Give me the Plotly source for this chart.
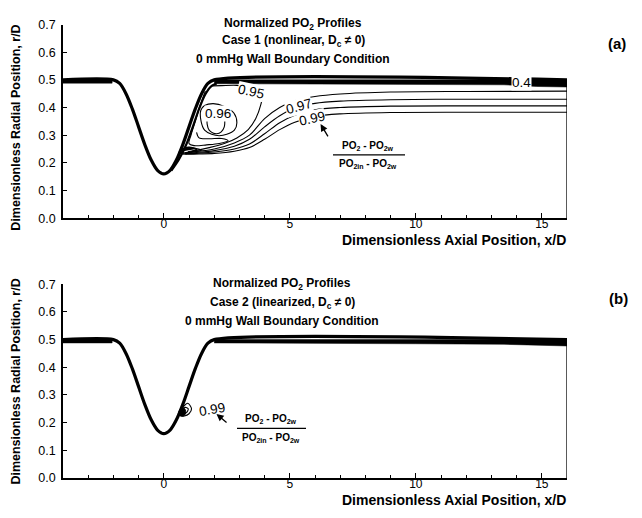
import plotly.graph_objects as go

# ---------------- data ----------------
# vessel wall (stenosis) profile, r/D vs x/D
wall_x = [-4.0, -2.0, -1.75, -1.5, -1.25, -1.0, -0.75, -0.5, -0.25, 0.0,
          0.25, 0.5, 0.75, 1.0, 1.25, 1.5, 1.75, 2.0, 16.0]
wall_r = [0.5, 0.5, 0.487, 0.45, 0.395, 0.33, 0.265, 0.21, 0.173, 0.16,
          0.173, 0.21, 0.265, 0.33, 0.395, 0.45, 0.487, 0.5, 0.5]

# dense near-wall contours (drawn as a solid band)
band_up_x = [-4.0, -2.05]
band_up_outer = [0.5, 0.5]
band_up_inner = [0.488, 0.488]
band_dn_x = [2.0, 6.0, 10.0, 13.5, 14.8, 16.0]
band_dn_outer = [0.5, 0.5, 0.5, 0.5, 0.5, 0.5]
band_a_inner = [0.486, 0.485, 0.484, 0.482, 0.476, 0.474]
band_b_inner = [0.488, 0.487, 0.485, 0.483, 0.480, 0.477]

# near-wall contour on the downstream slope (case 1)
nw_x = [0.3, 0.6, 0.9, 1.15, 1.4, 1.65, 1.9, 2.1]
nw_r = [0.172, 0.212, 0.268, 0.33, 0.395, 0.448, 0.478, 0.487]

# case 1 contours
c95_x = [1.92, 2.3, 2.9, 3.4, 3.75, 3.9, 3.85, 3.65, 3.35, 2.9, 2.4, 1.8, 1.3, 0.95]
c95_r = [0.478, 0.479, 0.48, 0.472, 0.46, 0.44, 0.41, 0.36, 0.32, 0.29, 0.27, 0.255, 0.245, 0.24]

cA_x = [1.65, 1.45, 1.25, 1.08, 1.0, 1.2, 1.7, 2.2, 2.55, 2.3, 1.8, 1.4, 1.3]
cA_r = [0.46, 0.41, 0.35, 0.30, 0.27, 0.262, 0.265, 0.27, 0.28, 0.288, 0.287, 0.29, 0.31]

c96_x = [1.47, 1.62, 1.96, 2.4, 2.78, 2.9, 2.8, 2.5, 2.2, 1.9, 1.62, 1.48, 1.47]
c96_r = [0.39, 0.407, 0.414, 0.404, 0.38, 0.345, 0.318, 0.303, 0.298, 0.303, 0.318, 0.35, 0.39]

cU_x = [1.72, 1.72, 1.8, 1.95, 2.1, 2.28, 2.4, 2.42]
cU_r = [0.36, 0.34, 0.318, 0.308, 0.305, 0.312, 0.33, 0.36]

fan_x = [0.85, 1.4, 2.0, 2.8, 3.4, 4.0, 4.6, 5.2, 6.0, 7.0, 9.0, 12.0, 16.0]
fanA_r = [0.237, 0.242, 0.25, 0.272, 0.30, 0.36, 0.40, 0.425, 0.44, 0.449, 0.456, 0.458, 0.459]
fanB_r = [0.235, 0.238, 0.244, 0.26, 0.285, 0.33, 0.37, 0.398, 0.415, 0.423, 0.428, 0.43, 0.43]
fanC_r = [0.233, 0.235, 0.239, 0.25, 0.268, 0.305, 0.345, 0.372, 0.392, 0.4, 0.405, 0.406, 0.406]
fanD_r = [0.231, 0.232, 0.234, 0.242, 0.255, 0.285, 0.32, 0.347, 0.368, 0.377, 0.382, 0.383, 0.383]

blob1_x = [0.62, 0.8, 1.0, 1.3, 1.05, 0.8, 0.62]
blob1_r = [0.24, 0.252, 0.256, 0.25, 0.238, 0.232, 0.24]
blob1b_x = [0.7, 0.9, 1.2, 1.5, 1.2, 0.9, 0.7]
blob1b_r = [0.238, 0.248, 0.252, 0.246, 0.24, 0.236, 0.238]

# case 2 contours (0.99 near reattachment)
c2a_x = [0.62, 0.78, 0.95, 1.1, 1.0, 0.82, 0.66, 0.62]
c2a_r = [0.235, 0.258, 0.27, 0.25, 0.232, 0.224, 0.226, 0.235]
c2b_x = [0.72, 0.84, 0.97, 0.9, 0.77, 0.72]
c2b_r = [0.238, 0.255, 0.25, 0.236, 0.232, 0.238]
blob2_x = [0.58, 0.72, 0.86, 0.82, 0.66, 0.58]
blob2_r = [0.232, 0.255, 0.245, 0.226, 0.224, 0.232]

# contour labels (value, x, r, angle)
labels_a = [("0.95", 3.45, 0.458, 12), ("0.96", 2.15, 0.378, 0),
            ("0.97", 5.35, 0.402, -15), ("0.99", 5.9, 0.36, -12),
            ("0.4", 14.2, 0.491, 0)]
labels_b = [("0.99", 1.9, 0.247, -10)]

x_ticks = [0, 5, 10, 15]
x_range = [-4, 16]
y_range = [0, 0.7]

# ---------------- figure ----------------
W, H = 642, 518
def fx(p):
    return p / W
def fy(p):
    return 1 - p / H

FONT = "Liberation Sans, Arial, Helvetica, sans-serif"
fig = go.Figure()

def line(x, y, ax, w=1.1, shape="spline"):
    fig.add_trace(go.Scatter(x=x, y=y, mode="lines", xaxis=ax[0], yaxis=ax[1],
                             line=dict(color="black", width=w, shape=shape, smoothing=0.9),
                             hoverinfo="skip", showlegend=False))

def poly(x, outer, inner, ax):
    fig.add_trace(go.Scatter(x=list(x) + list(x)[::-1], y=list(outer) + list(inner)[::-1],
                             mode="lines", fill="toself", fillcolor="black",
                             xaxis=ax[0], yaxis=ax[1], line=dict(color="black", width=0.5),
                             hoverinfo="skip", showlegend=False))

for ax, inner in ((("x", "y"), band_a_inner), (("x2", "y2"), band_b_inner)):
    poly(band_up_x, band_up_outer, band_up_inner, ax)
    poly(band_dn_x, band_dn_outer, inner, ax)
    line(wall_x, wall_r, ax, w=3.2)
    line([wall_x[-1], wall_x[-1]], [0, inner[-1]], ax, w=1.3, shape="linear")

A = ("x", "y")
line(nw_x, nw_r, A, w=2.2)
line(c95_x, c95_r, A)
line(cA_x, cA_r, A)
line(c96_x, c96_r, A)
line(cU_x, cU_r, A)
for r in (fanA_r, fanB_r, fanC_r, fanD_r):
    line(fan_x, r, A)
line(blob1_x, blob1_r, A, w=1.4)
line(blob1b_x, blob1b_r, A, w=1.2)
fig.add_trace(go.Scatter(x=blob1_x[:4], y=blob1_r[:4], mode="lines", fill="toself",
                         fillcolor="black", line=dict(color="black", width=1),
                         hoverinfo="skip", showlegend=False))

B = ("x2", "y2")
line(c2a_x, c2a_r, B)
line(c2b_x, c2b_r, B)
fig.add_trace(go.Scatter(x=blob2_x, y=blob2_r, mode="lines", fill="toself",
                         fillcolor="black", xaxis="x2", yaxis="y2",
                         line=dict(color="black", width=1, shape="spline"),
                         hoverinfo="skip", showlegend=False))

ann = []
for (t, x, y, a) in labels_a:
    ann.append(dict(x=x, y=y, xref="x", yref="y", text=t, showarrow=False, textangle=a,
                    bgcolor="white", borderpad=0, font=dict(family=FONT, size=13.5, color="black")))
for (t, x, y, a) in labels_b:
    ann.append(dict(x=x, y=y, xref="x2", yref="y2", text=t, showarrow=False, textangle=a,
                    bgcolor="white", borderpad=0, font=dict(family=FONT, size=13.5, color="black")))

# arrows from the fraction to the 0.99 labels
ann.append(dict(x=6.22, y=0.34, ax=6.55, ay=0.29, xref="x", yref="y", axref="x", ayref="y",
                text="", showarrow=True, arrowhead=2, arrowsize=1.1, arrowwidth=1.3, arrowcolor="black"))
ann.append(dict(x=2.09, y=0.231, ax=2.55, ay=0.196, xref="x2", yref="y2", axref="x2", ayref="y2",
                text="", showarrow=True, arrowhead=2, arrowsize=1.1, arrowwidth=1.3, arrowcolor="black"))

def ptext(t, xp, ypix, size, bold=True, xanchor="center", angle=0):
    ann.append(dict(x=fx(xp), y=fy(ypix), xref="paper", yref="paper", text=("<b>%s</b>" % t) if bold else t,
                    showarrow=False, xanchor=xanchor, yanchor="middle", textangle=angle,
                    font=dict(family=FONT, size=size, color="black")))

titles_a = ["Normalized PO<sub>2</sub> Profiles", "Case 1 (nonlinear, D<sub>c</sub> \u2260 0)",
            "0 mmHg Wall Boundary Condition"]
titles_b = ["Normalized PO<sub>2</sub> Profiles", "Case 2 (linearized, D<sub>c</sub> \u2260 0)",
            "0 mmHg Wall Boundary Condition"]
for t, yp in zip(titles_a, (17, 35, 53)):
    ptext(t, 293, yp, 12)
for t, yp in zip(titles_b, (285, 304, 323)):
    ptext(t, 282, yp, 12)

ptext("(a)", 617, 38, 15)
ptext("(b)", 618, 300, 15)
ptext("Dimensionless Radial Position, r/D", 16, 124, 12.5, angle=-90)
ptext("Dimensionless Radial Position, r/D", 16, 385, 12.5, angle=-90)
ptext("Dimensionless Axial Position, x/D", 568, 239, 14, xanchor="right")
ptext("Dimensionless Axial Position, x/D", 568, 507, 14, xanchor="right")

num = "PO<sub>2</sub> - PO<sub>2w</sub>"
den = "PO<sub>2in</sub> - PO<sub>2w</sub>"
ptext(num, 368, 143, 10)
ptext(den, 368, 161, 10)
ptext(num, 271, 423, 10)
ptext(den, 271, 443, 10)

shapes = [
    dict(type="line", xref="paper", yref="paper", x0=fx(333), x1=fx(405), y0=fy(152), y1=fy(152),
         line=dict(color="black", width=1.2)),
    dict(type="line", xref="paper", yref="paper", x0=fx(237), x1=fx(306), y0=fy(433), y1=fy(433),
         line=dict(color="black", width=1.2)),
]

xa = dict(domain=[fx(63), fx(567)], range=x_range, tickvals=x_ticks, ticks="inside", ticklen=5,
          tickwidth=1.2, tickcolor="black", minor=dict(dtick=1, tick0=0, ticks="inside", ticklen=3,
          tickwidth=1, tickcolor="black"), showline=True, linewidth=1.5, linecolor="black",
          showgrid=False, zeroline=False, ticklabelstandoff=-6,
          tickfont=dict(family=FONT, size=12, color="black"))
ya = dict(range=y_range, dtick=0.1, tick0=0, tickformat=".1f", ticks="inside", ticklen=4,
          tickwidth=1.2, tickcolor="black", showline=True, linewidth=1.5, linecolor="black",
          showgrid=False, zeroline=False, ticklabelstandoff=3,
          tickfont=dict(family=FONT, size=12.5, color="black"))

fig.update_layout(
    width=W, height=H, margin=dict(l=0, r=0, t=0, b=0),
    paper_bgcolor="white", plot_bgcolor="white", showlegend=False,
    xaxis=dict(xa, anchor="y"),
    yaxis=dict(ya, domain=[fy(217), fy(18)], anchor="x"),
    xaxis2=dict(xa, anchor="y2"),
    yaxis2=dict(ya, domain=[fy(484), fy(285)], anchor="x2"),
    annotations=ann, shapes=shapes,
)

fig.write_html("out.html")
